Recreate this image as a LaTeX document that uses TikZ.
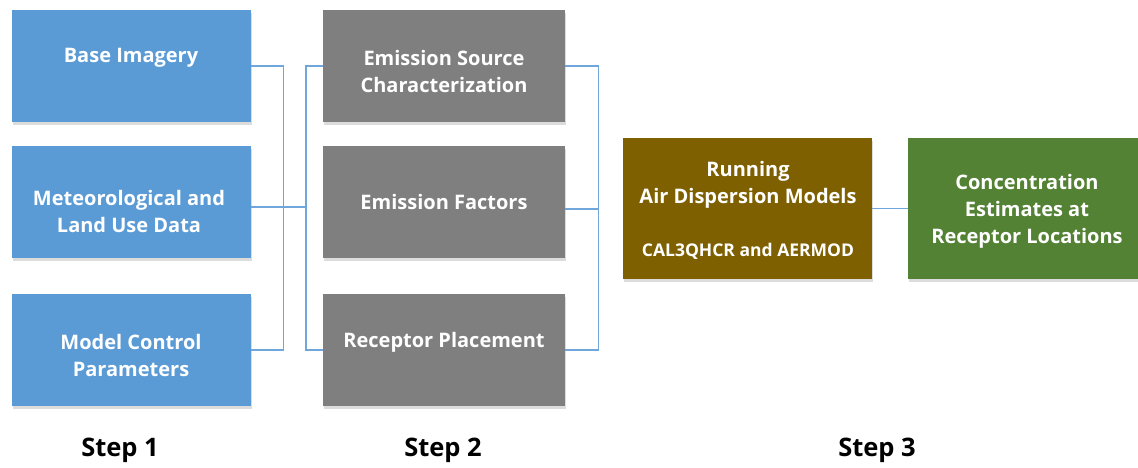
\documentclass[tikz,border=0pt]{standalone}
\usepackage{fontspec}
\setmainfont{Open Sans}
\usetikzlibrary{shadows}
\definecolor{stepblue}{HTML}{5B9BD5}
\definecolor{stepgray}{HTML}{7F7F7F}
\definecolor{stepbrown}{HTML}{7F6000}
\definecolor{stepgreen}{HTML}{548235}
\definecolor{linkblue}{HTML}{6FA6DC}
\tikzset{
  card/.style={rectangle, inner sep=0pt, anchor=north west,
    drop shadow={shadow xshift=1.2pt, shadow yshift=-2.5pt, opacity=0.28}},
  bluecard/.style={card, fill=stepblue, minimum width=239pt, minimum height=112pt},
  graycard/.style={card, fill=stepgray, minimum width=242pt, minimum height=112pt},
  caption/.style={text=white, font=\fontsize{20}{27}\selectfont\bfseries, align=center},
  small/.style={text=white, font=\fontsize{17.5}{22}\selectfont\bfseries, align=center},
  steplabel/.style={font=\fontsize{25.5}{30}\selectfont\bfseries},
  link/.style={draw=linkblue, line width=1.6pt}
}
\begin{document}
\begin{tikzpicture}[x=1pt,y=-1pt]
\useasboundingbox (0,0) rectangle (1138,467);

% Step 1 inputs
\node[bluecard] (base) at (12,10) {};
\node[bluecard] (met)  at (12,146) {};
\node[bluecard] (ctrl) at (12,294) {};
\node[caption] (baseT) at (131,58) {Base Imagery};
\node[caption] (metT)  at (129,211) {Meteorological and\\Land Use Data};
\node[caption] (ctrlT) at (131,355) {Model Control\\Parameters};

% Step 2 setup
\node[graycard] (esc) at (323,10) {};
\node[graycard] (ef)  at (323,146) {};
\node[graycard] (rp)  at (323,294) {};
\node[caption] (escT) at (444,71) {Emission Source\\Characterization};
\node[caption] (efT)  at (444,202) {Emission Factors};
\node[caption] (rpT)  at (444,342) {Receptor Placement};

% Step 3 modelling and results
\node[card, fill=stepbrown, minimum width=249pt, minimum height=141pt] (run) at (623,138) {};
\node[card, fill=stepgreen, minimum width=230pt, minimum height=141pt] (conc) at (908,138) {};
\node[caption] (runT) at (748,185) {Running\\Air Dispersion Models};
\node[small] (runS) at (748,251) {CAL3QHCR and AERMOD};
\node[caption] (concT) at (1027,211) {Concentration\\Estimates at\\Receptor Locations};

% Connectors between the steps
\coordinate (joinL) at (306,207);
\draw[link] (base.east) -- ++(32,0) |- (ctrl.east);
\draw[link] (met.east |- joinL) -- (joinL);
\draw[link] (esc.west) -- ++(-17,0) |- (rp.west);
\draw[link] (esc.east) -- ++(33,0) |- (rp.east);
\coordinate (joinR) at (598,209);
\draw[link] (ef.east |- joinR) -- (joinR);
\draw[link, line width=0.9pt] (run.east) -- (conc.west);

% Step captions
\node[steplabel] (s1) at (120,450) {Step 1};
\node[steplabel] (s2) at (443,450) {Step 2};
\node[steplabel] (s3) at (877,450) {Step 3};
\end{tikzpicture}
\end{document}
